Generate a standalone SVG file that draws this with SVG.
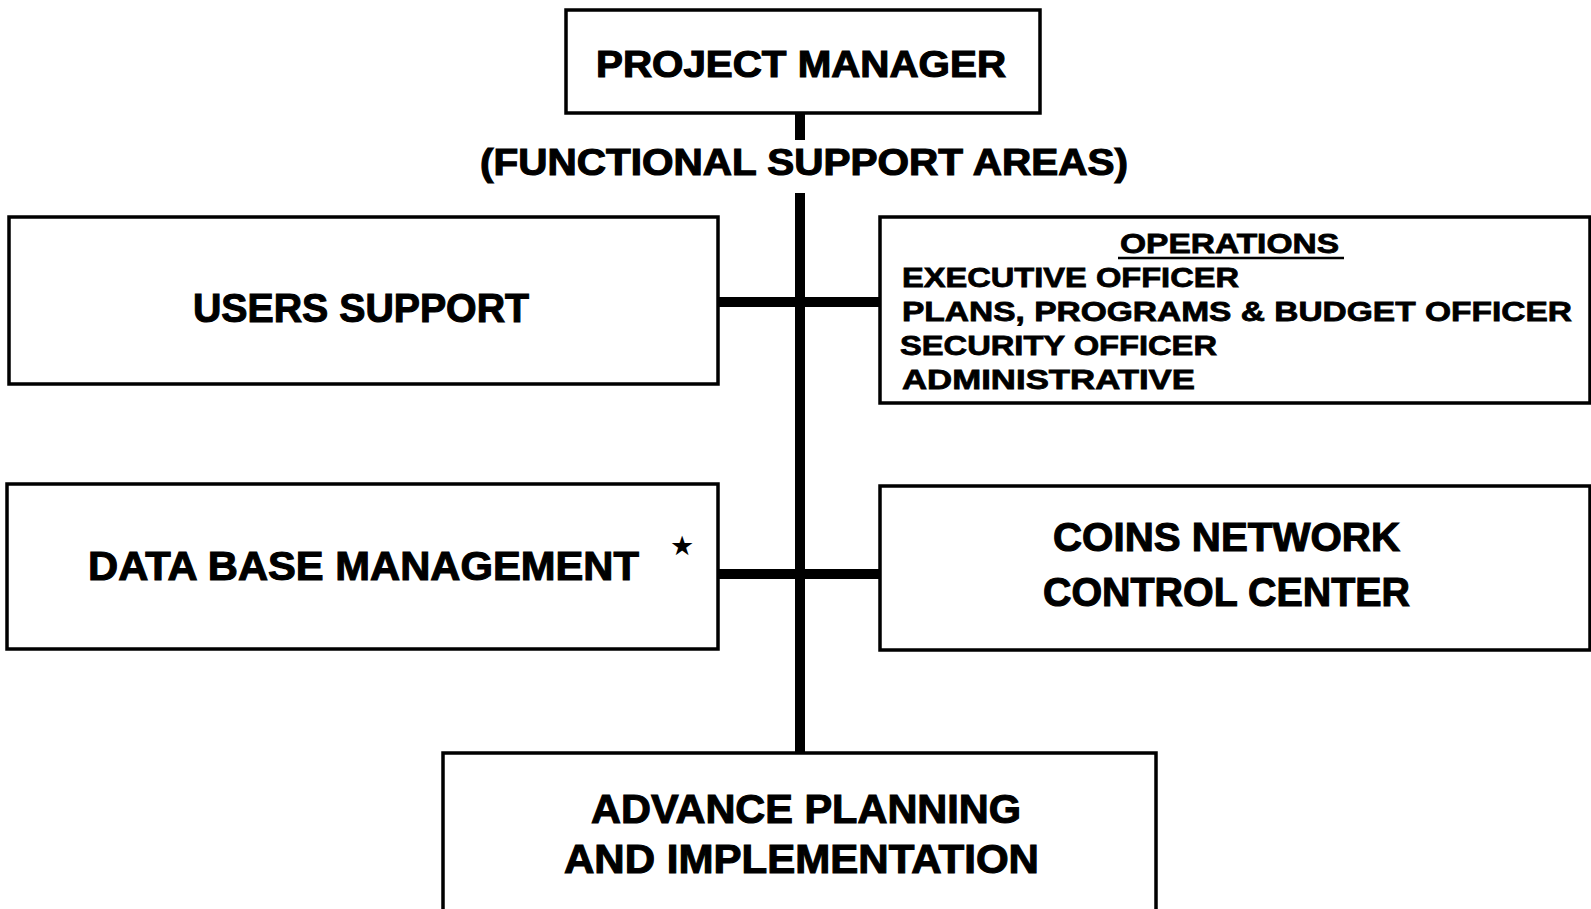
<svg xmlns="http://www.w3.org/2000/svg" width="1591" height="909" viewBox="0 0 1591 909">
<style>
.box{fill:#fff;stroke:#000;stroke-width:3.5}
.t{font-family:"Liberation Sans",Arial,Helvetica,sans-serif;font-weight:bold;fill:#000;stroke:#000;stroke-width:1.1}
.big{font-size:41px}
.ops{font-size:28px;stroke-width:0.8}
.conn{stroke:#000;stroke-width:10;fill:none}
</style>
<rect width="1591" height="909" fill="#fff"/>
<g id="connectors">
<line class="conn" x1="800" y1="112" x2="800" y2="140" stroke-width="9"/>
<line class="conn" x1="800" y1="193" x2="800" y2="753"/>
<line class="conn" x1="717" y1="302" x2="880" y2="302"/>
<line class="conn" x1="718" y1="574" x2="880" y2="574"/>
</g>
<g id="project-manager">
<rect class="box" x="566" y="10" width="474" height="103"/>
<text class="t" x="596" y="77" font-size="36" textLength="410" lengthAdjust="spacingAndGlyphs">PROJECT MANAGER</text>
</g>
<g id="functional-label">
<text class="t" x="480" y="175" font-size="36" textLength="648" lengthAdjust="spacingAndGlyphs">(FUNCTIONAL SUPPORT AREAS)</text>
</g>
<g id="users-support">
<rect class="box" x="9" y="217" width="709" height="167"/>
<text class="t big" x="193" y="322" textLength="336" lengthAdjust="spacingAndGlyphs">USERS SUPPORT</text>
</g>
<g id="operations">
<rect class="box" x="880" y="217" width="710" height="186"/>
<text class="t ops" x="1120" y="253" textLength="219" lengthAdjust="spacingAndGlyphs">OPERATIONS</text>
<line x1="1118" y1="258" x2="1344" y2="258" stroke="#000" stroke-width="2.5"/>
<text class="t ops" x="902" y="287" textLength="337" lengthAdjust="spacingAndGlyphs">EXECUTIVE OFFICER</text>
<text class="t ops" x="902" y="321" textLength="670" lengthAdjust="spacingAndGlyphs">PLANS, PROGRAMS &amp; BUDGET OFFICER</text>
<text class="t ops" x="900" y="355" textLength="317" lengthAdjust="spacingAndGlyphs">SECURITY OFFICER</text>
<text class="t ops" x="902" y="389" textLength="293" lengthAdjust="spacingAndGlyphs">ADMINISTRATIVE</text>
</g>
<g id="data-base-management">
<rect class="box" x="7" y="484" width="711" height="165"/>
<text class="t big" x="88" y="580" textLength="551" lengthAdjust="spacingAndGlyphs">DATA BASE MANAGEMENT</text>
<text x="682" y="555" font-family="DejaVu Sans,sans-serif" font-size="27" text-anchor="middle" fill="#000">★</text>
</g>
<g id="coins-network">
<rect class="box" x="880" y="486" width="710" height="164"/>
<text class="t big" x="1053" y="551" textLength="347" lengthAdjust="spacingAndGlyphs">COINS NETWORK</text>
<text class="t big" x="1043" y="606" textLength="367" lengthAdjust="spacingAndGlyphs">CONTROL CENTER</text>
</g>
<g id="advance-planning">
<rect class="box" x="443" y="753" width="713" height="170"/>
<text class="t big" x="591" y="823" textLength="430" lengthAdjust="spacingAndGlyphs">ADVANCE PLANNING</text>
<text class="t big" x="564" y="873" textLength="475" lengthAdjust="spacingAndGlyphs">AND IMPLEMENTATION</text>
</g>
</svg>
